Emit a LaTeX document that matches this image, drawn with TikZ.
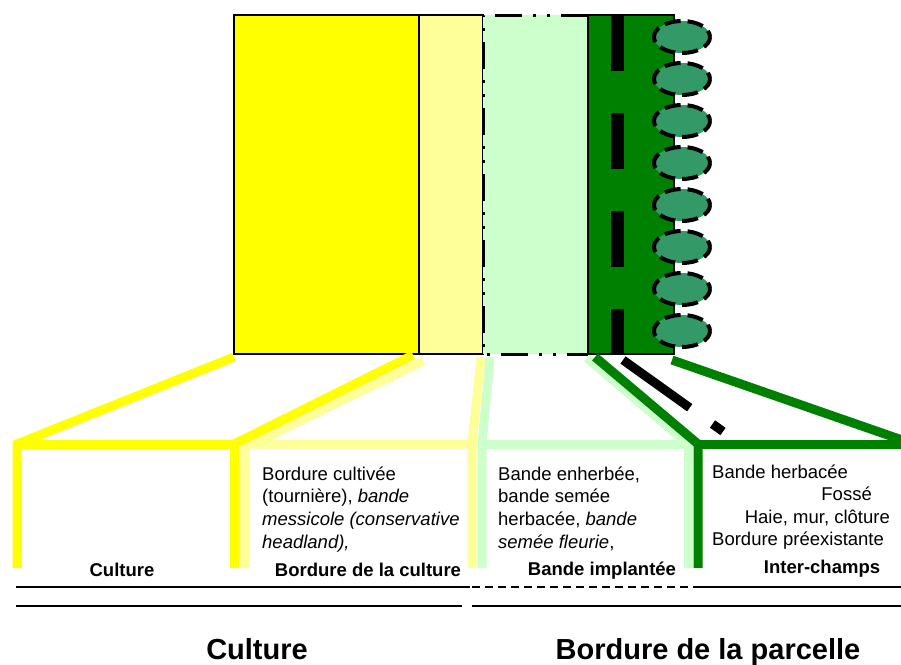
\documentclass[tikz,border=0pt]{standalone}
\usepackage{fontspec}
\setmainfont{Liberation Sans}
\definecolor{jaune}{RGB}{255,255,0}
\definecolor{jaunepale}{RGB}{255,255,153}
\definecolor{vertpale}{RGB}{204,255,204}
\definecolor{vertfonce}{RGB}{0,128,0}
\definecolor{vertdrain}{RGB}{51,153,102}

\begin{document}
\begin{tikzpicture} [x = 1pt, y = -1pt,
  bande/.style = {line width = 9pt, line cap = butt, line join = miter},
  trait/.style = {line width = 2pt},
  txt/.style = {anchor = base west, inner sep = 0pt, font = \fontsize{18.5}{22.7}\selectfont},
  titre/.style = {anchor = base, inner sep = 0pt, font = \fontsize{18.5}{22.7}\selectfont\bfseries},
  grandtitre/.style = {anchor = base, inner sep = 0pt, font = \fontsize{29}{34}\selectfont\bfseries}]
\useasboundingbox (0, 0) rectangle (901, 664);
% le champ vu de dessus
\draw[line width = 1.2pt, fill = jaune] (234, 15) rectangle (419, 354);
\draw[line width = 1.2pt, fill = jaunepale] (419, 15) rectangle (483, 354);
\fill[vertpale] (483, 15) rectangle (588, 354);
\draw[line width = 1.2pt, fill = vertfonce] (588, 15) rectangle (674, 354);
\draw[line width = 13pt, dash pattern = on 56pt off 42pt] (617.5, 15) -- (617.5, 354);
\foreach \y in {37, 79, 121, 163, 205, 247, 289, 331}
  \draw[line width = 4pt, dash pattern = on 16pt off 7pt, dash phase = 4pt, fill = vertdrain] (682, \y) ellipse [x radius = 28, y radius = 16];
\draw[line width = 3pt, dash pattern = on 27pt off 11pt on 3pt off 11pt on 3pt off 11pt] (588, 15) -- (483, 15) -- (483, 354) -- (588, 354);
% les entonnoirs
\draw[bande, jaunepale] (423, 361) -- (252, 444) -- (477, 444);
\draw[bande, jaunepale] (244, 444) -- (244, 568);
\draw[bande, jaunepale] (481, 357) -- (472, 444) -- (472, 568);
\draw[bande, jaune] (234, 357) -- (17, 444) -- (17, 568);
\draw[bande, jaune] (17, 444) -- (234, 444) -- (234, 568);
\draw[bande, jaune] (413, 355) -- (234, 444);
\draw[bande, vertpale] (490, 357) -- (482, 444) -- (482, 568);
\draw[bande, vertpale] (482, 444) -- (688, 444) -- (688, 568);
\draw[bande, vertpale] (587, 358) -- (688, 444);
\draw[bande, vertfonce] (595, 357) -- (698, 444) -- (698, 568);
\draw[bande, vertfonce] (698, 444) -- (905, 444);
\draw[bande, vertfonce] (672, 360) -- (905, 441);
\draw[bande, black, dash pattern = on 82pt off 28pt] (623, 360) -- (723, 431.5);
% les textes
\node[txt] (bc1) at (262, 480) {Bordure cultivée};
\node[txt] (bc2) at (262, 502.7) {(tournière), \textit{bande}};
\node[txt] (bc3) at (262, 525.3) {\textit{messicole (conservative}};
\node[txt] (bc4) at (262, 548) {\textit{headland),}};
\node[txt] (bi1) at (498, 480) {Bande enherbée,};
\node[txt] (bi2) at (498, 502.7) {bande semée};
\node[txt] (bi3) at (498, 525.3) {herbacée, \textit{bande}};
\node[txt] (bi4) at (498, 548) {\textit{semée fleurie},};
\node[txt] (ic1) at (712, 478) {Bande herbacée};
\node[txt, anchor = base east] (ic2) at (872, 500.7) {Fossé};
\node[txt, anchor = base east] (ic3) at (890, 523) {Haie, mur, clôture};
\node[txt] (ic4) at (712, 545) {Bordure préexistante};
\node[titre] (culture) at (122, 576) {Culture};
\node[titre] (bordure) at (368, 576) {Bordure de la culture};
\node[titre] (bande) at (602, 575) {Bande implantée};
\node[titre] (inter) at (822, 573) {Inter-champs};
% les traits du bas
\draw[trait] (16, 587) -- (470, 587);
\draw[trait, dash pattern = on 8pt off 5pt] (472, 587) -- (700, 587);
\draw[trait] (700, 587) -- (901, 587);
\draw[trait] (16, 606) -- (462, 606);
\draw[trait] (472, 606) -- (901, 606);
\node[grandtitre] (champ) at (257, 659) {Culture};
\node[grandtitre] (parcelle) at (708, 659) {Bordure de la parcelle};
\end{tikzpicture}
\end{document}
